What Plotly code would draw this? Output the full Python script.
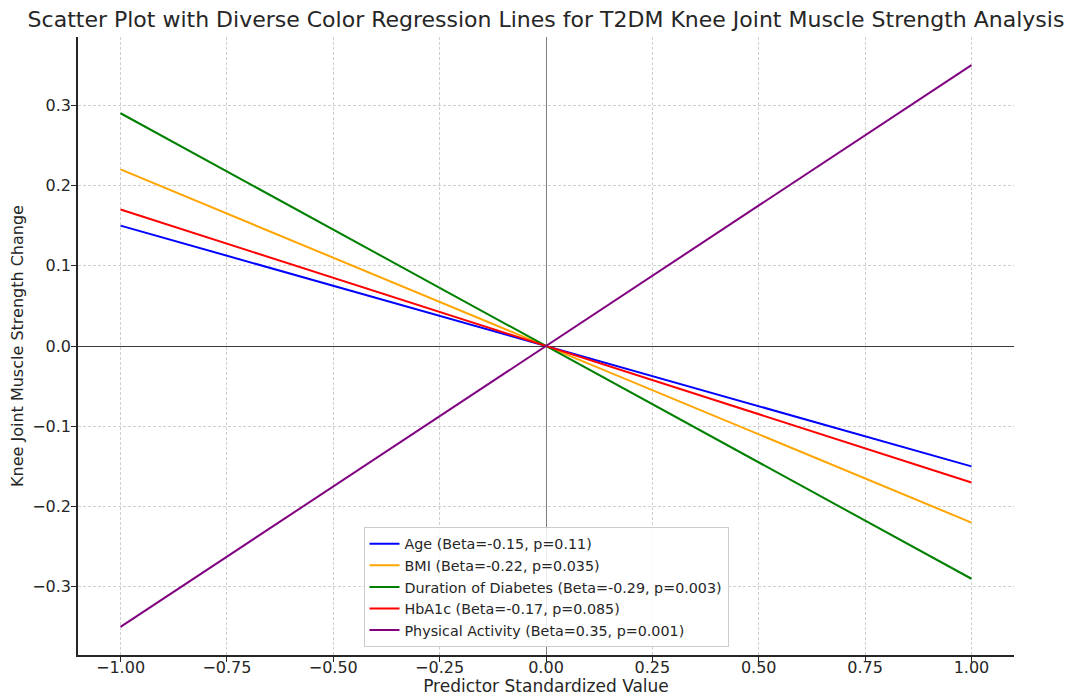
import plotly.graph_objects as go

predictors = ["Age", "BMI", "Duration of Diabetes", "HbA1c", "Physical Activity"]
betas = [-0.15, -0.22, -0.29, -0.17, 0.35]
pvalues = ["0.11", "0.035", "0.003", "0.085", "0.001"]
colors = ["blue", "orange", "green", "red", "purple"]
x_vals = [-1.0, 1.0]
x_ticks = [-1.0, -0.75, -0.5, -0.25, 0.0, 0.25, 0.5, 0.75, 1.0]
y_ticks = [-0.3, -0.2, -0.1, 0.0, 0.1, 0.2, 0.3]

fig = go.Figure()
for name, b, p, c in zip(predictors, betas, pvalues, colors):
    fig.add_trace(go.Scatter(
        x=x_vals, y=[b * x for x in x_vals], mode="lines",
        line=dict(color=c, width=2),
        name=f"{name} (Beta={b}, p={p})",
    ))

# the page body has an 8px margin, so the figure is sized 8px smaller
W, H = 1070, 688
font = "DejaVu Sans"
grid = dict(showgrid=True, gridcolor="#cfcfcf", griddash="3px,2px", gridwidth=1,
            showline=True, linecolor="#262626", linewidth=1.5,
            ticks="outside", ticklen=5, tickcolor="#262626", tickwidth=1,
            tickfont=dict(size=16), automargin=False)
fig.update_layout(
    width=W, height=H,
    margin=dict(l=70, r=64, t=29, b=41),
    paper_bgcolor="white", plot_bgcolor="white",
    font=dict(family=font, color="#262626", size=16),
    title=dict(text="Scatter Plot with Diverse Color Regression Lines for T2DM Knee Joint Muscle Strength Analysis",
               x=0.5, xref="paper", y=1 - 11 / H, yref="container", yanchor="middle", xanchor="center",
               font=dict(size=22, family=font, color="#262626")),
    showlegend=True,
    legend=dict(x=0.5, xanchor="center", y=0.013, yanchor="bottom",
                bgcolor="rgba(255,255,255,0.85)", bordercolor="#cccccc", borderwidth=1,
                font=dict(size=14.3, family=font, color="#262626"),
                tracegroupgap=0),
)
fig.update_xaxes(
    range=[-1.1, 1.1], tickvals=x_ticks, tickformat=".2f",
    zeroline=True, zerolinecolor="#808080", zerolinewidth=1,
    ticklabelstandoff=-8,
    title=dict(text="Predictor Standardized Value", font=dict(size=17), standoff=2),
    **grid,
)
fig.update_yaxes(
    range=[-0.385, 0.385], tickvals=y_ticks, tickformat=".1f",
    zeroline=True, zerolinecolor="#3a3a3a", zerolinewidth=1.2,
    ticklabelstandoff=-3,
    title=dict(text="Knee Joint Muscle Strength Change", font=dict(size=16), standoff=10),
    **grid,
)
fig.write_html("out.html")
